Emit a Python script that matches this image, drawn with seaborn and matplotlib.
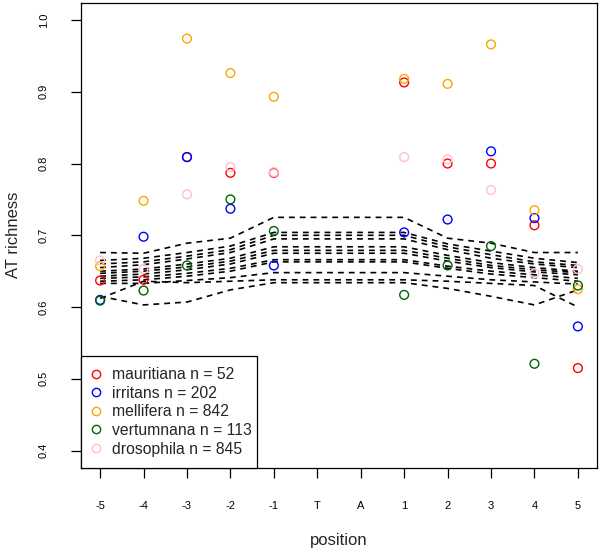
import pandas as pd
import numpy as np
import matplotlib
matplotlib.use('Agg')
import matplotlib.pyplot as plt
from matplotlib.lines import Line2D
import seaborn as sns

# posições no eixo x
pos_labels = ['-5', '-4', '-3', '-2', '-1', 'T', 'A', '1', '2', '3', '4', '5']
pt_labels = ['-5', '-4', '-3', '-2', '-1', '1', '2', '3', '4', '5']

# riqueza AT por espécie
mauritiana = [0.637, 0.638, 0.809, 0.787, 0.787, 0.913, 0.800, 0.800, 0.714, 0.515]
irritans = [0.610, 0.698, 0.809, 0.737, 0.658, 0.704, 0.722, 0.817, 0.724, 0.573]
mellifera = [0.657, 0.748, 0.974, 0.926, 0.893, 0.918, 0.911, 0.966, 0.735, 0.625]
vertumnana = [0.609, 0.623, 0.658, 0.750, 0.706, 0.617, 0.658, 0.685, 0.521, 0.630]
drosophila = [0.665, 0.653, 0.757, 0.795, 0.788, 0.809, 0.806, 0.763, 0.647, 0.653]

species = ['mauritiana n = 52', 'irritans n = 202', 'mellifera n = 842',
           'vertumnana n = 113', 'drosophila n = 845']
colors = ['red', 'blue', 'orange', 'darkgreen', 'pink']

# linhas tracejadas (distribuição nula)
null_lines = [
    [0.676, 0.675, 0.689, 0.696, 0.725, 0.725, 0.725, 0.725, 0.696, 0.689, 0.676, 0.676],
    [0.665, 0.668, 0.676, 0.685, 0.704, 0.704, 0.704, 0.704, 0.688, 0.678, 0.668, 0.662],
    [0.660, 0.663, 0.671, 0.680, 0.700, 0.700, 0.700, 0.700, 0.684, 0.673, 0.663, 0.658],
    [0.655, 0.659, 0.667, 0.676, 0.695, 0.695, 0.695, 0.695, 0.680, 0.668, 0.660, 0.655],
    [0.650, 0.653, 0.660, 0.668, 0.684, 0.684, 0.684, 0.684, 0.672, 0.662, 0.655, 0.650],
    [0.647, 0.650, 0.656, 0.664, 0.679, 0.679, 0.679, 0.679, 0.668, 0.658, 0.652, 0.648],
    [0.643, 0.646, 0.652, 0.660, 0.675, 0.675, 0.675, 0.675, 0.664, 0.655, 0.649, 0.645],
    [0.640, 0.642, 0.647, 0.654, 0.666, 0.666, 0.666, 0.666, 0.657, 0.650, 0.645, 0.640],
    [0.636, 0.638, 0.643, 0.650, 0.663, 0.663, 0.663, 0.663, 0.654, 0.646, 0.641, 0.636],
    [0.633, 0.633, 0.637, 0.641, 0.648, 0.648, 0.648, 0.648, 0.643, 0.638, 0.635, 0.632],
    [0.612, 0.636, 0.634, 0.636, 0.638, 0.638, 0.638, 0.638, 0.636, 0.633, 0.630, 0.600],
    [0.615, 0.603, 0.607, 0.624, 0.634, 0.634, 0.634, 0.634, 0.626, 0.615, 0.603, 0.624],
]

sns.set_style('white')
plt.rcParams['font.family'] = ['Liberation Sans', 'DejaVu Sans']

xmap = {lab: i + 1 for i, lab in enumerate(pos_labels)}

lines_df = pd.DataFrame([
    {'line': k, 'pos': xmap[lab], 'value': v}
    for k, vals in enumerate(null_lines)
    for lab, v in zip(pos_labels, vals)
])

series = [mauritiana, irritans, mellifera, vertumnana, drosophila]
pts_df = pd.DataFrame([
    {'species': sp, 'pos': xmap[lab], 'value': v}
    for sp, vals in zip(species, series)
    for lab, v in zip(pt_labels, vals)
])

fig = plt.figure(figsize=(6, 5.53), dpi=100)
ax = fig.add_axes([0.135, 0.154, 0.86, 0.841])

sns.lineplot(data=lines_df, x='pos', y='value', units='line', estimator=None,
             color='black', linestyle=(0, (3.5, 3)), linewidth=1.2, ax=ax, legend=False)

for sp, col in zip(species, colors):
    sns.scatterplot(data=pts_df[pts_df['species'] == sp], x='pos', y='value',
                    color=col, s=40, ax=ax, legend=False, zorder=3)
    coll = ax.collections[-1]
    coll.set_edgecolors(col)
    coll.set_facecolors('none')
    coll.set_linewidths(1.0)

ax.set_xlim(0.56, 12.44)
ax.set_ylim(0.376, 1.024)
ax.set_xticks(range(1, 13))
ax.set_xticklabels(pos_labels)
ax.set_yticks([0.4, 0.5, 0.6, 0.7, 0.8, 0.9, 1.0])
ax.set_yticklabels(['0.4', '0.5', '0.6', '0.7', '0.8', '0.9', '1.0'], rotation=90, va='center')
ax.tick_params(axis='both', direction='out', length=7, width=0.9, colors='black',
               labelsize=8, left=True, bottom=True)
ax.tick_params(axis='x', pad=17)
ax.tick_params(axis='y', pad=16)
for sp_ in ax.spines.values():
    sp_.set_color('black')
    sp_.set_linewidth(0.9)

ax.set_xlabel('position', fontsize=12, labelpad=16)
ax.set_ylabel('AT richness', fontsize=12, labelpad=13)

handles = [Line2D([], [], marker='o', linestyle='', markerfacecolor='none',
                  markeredgecolor=c, markersize=6, markeredgewidth=1.0) for c in colors]
leg = ax.legend(handles, species, loc='lower left', bbox_to_anchor=(0, 0, 0.341, 0.241),
                mode='expand', borderaxespad=0, fontsize=11.3, frameon=True, fancybox=False,
                labelspacing=0.23, borderpad=0.72, handlelength=0.5, handletextpad=0.75)
leg.get_frame().set_edgecolor('black')
leg.get_frame().set_linewidth(0.9)
leg.get_frame().set_alpha(1)

plt.savefig('out.png', dpi=100)
